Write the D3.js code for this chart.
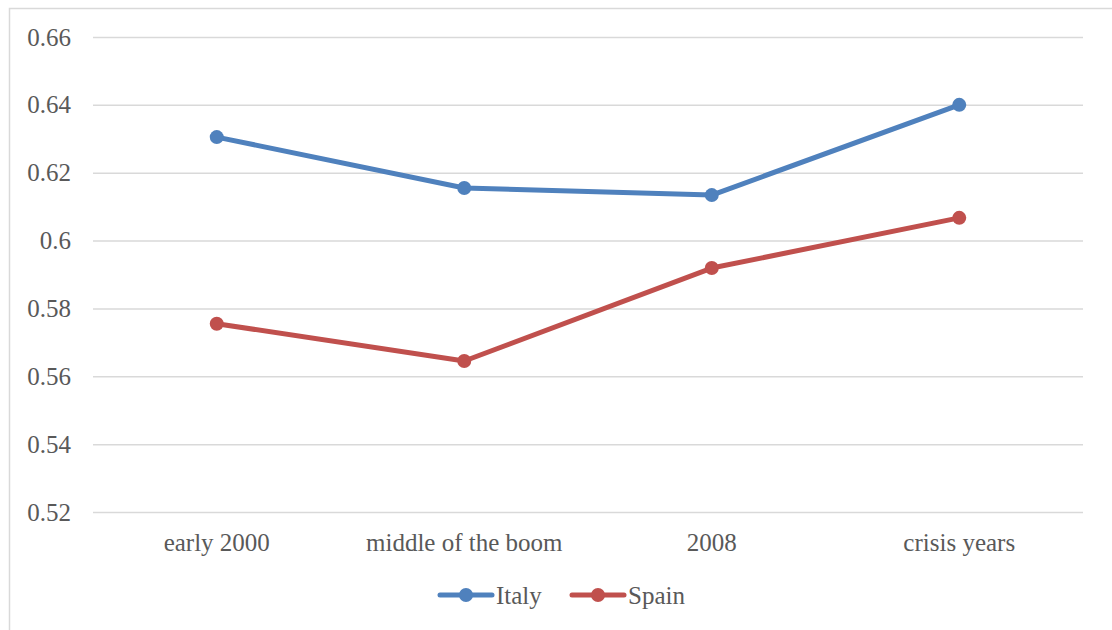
<!DOCTYPE html>
<html>
<head>
<meta charset="utf-8">
<script src="https://cdn.jsdelivr.net/npm/d3@7"></script>
<style>
  html, body { margin: 0; padding: 0; background: #fff; }
  svg { display: block; }
  svg text { font-family: 'Liberation Serif', serif; }
</style>
</head>
<body>
<svg id="chart" width="1112" height="630"></svg>
<script>
const categories = ["early 2000", "middle of the boom", "2008", "crisis years"];
const italy = [0.6305, 0.6155, 0.6134, 0.6400];
const spain = [0.5755, 0.5645, 0.5919, 0.6067];
const yTicks = [0.52, 0.54, 0.56, 0.58, 0.6, 0.62, 0.64, 0.66];
const seriesNames = ["Italy", "Spain"];
const seriesColors = ["#4f81bd", "#c0504d"];

const series = [
  { name: seriesNames[0], values: italy, color: seriesColors[0] },
  { name: seriesNames[1], values: spain, color: seriesColors[1] }
];

const svg = d3.select("#chart");
const font = "'Liberation Serif', serif";
const fontSize = 25;
const textColor = "#595959";
const gridColor = "#d9d9d9";

// outer chart-area frame
svg.append("rect")
  .attr("x", 9.5).attr("y", 8.5)
  .attr("width", 1200).attr("height", 700)
  .attr("fill", "none").attr("stroke", gridColor).attr("stroke-width", 1.5);

const plot = { left: 93, right: 1083, top: 37, bottom: 512 };

const x = d3.scaleBand().domain(categories).range([plot.left, plot.right]);
const y = d3.scaleLinear().domain([0.52, 0.66]).range([plot.bottom, plot.top]);

// horizontal gridlines + y labels
const yAxis = d3.axisLeft(y)
  .tickValues(yTicks)
  .tickSize(-(plot.right - plot.left))
  .tickPadding(22)
  .tickFormat(d => String(+d.toFixed(2)));

const gy = svg.append("g")
  .attr("transform", `translate(${plot.left},0)`)
  .call(yAxis)
  .attr("font-family", font)
  .attr("font-size", fontSize);
gy.select(".domain").remove();
gy.selectAll(".tick line").attr("stroke", gridColor).attr("stroke-width", 1.5);
gy.selectAll(".tick text").attr("fill", textColor);

// category labels
const xAxis = d3.axisBottom(x).tickSize(0).tickPadding(21);
const gx = svg.append("g")
  .attr("transform", `translate(0,${plot.bottom})`)
  .call(xAxis)
  .attr("font-family", font)
  .attr("font-size", fontSize);
gx.select(".domain").remove();
gx.selectAll(".tick text").attr("fill", textColor);

// series lines and markers
const line = d3.line()
  .x((d, i) => x(categories[i]) + x.bandwidth() / 2)
  .y(d => y(d));

series.forEach(s => {
  svg.append("path")
    .datum(s.values)
    .attr("d", line)
    .attr("fill", "none")
    .attr("stroke", s.color)
    .attr("stroke-width", 5)
    .attr("stroke-linejoin", "round")
    .attr("stroke-linecap", "round");
  svg.selectAll(null)
    .data(s.values)
    .enter().append("circle")
    .attr("cx", (d, i) => x(categories[i]) + x.bandwidth() / 2)
    .attr("cy", d => y(d))
    .attr("r", 7)
    .attr("fill", s.color);
});

// legend
const legendY = 595;
const legendItems = [
  { x: 438, s: series[0] },
  { x: 570, s: series[1] }
];
legendItems.forEach(item => {
  const g = svg.append("g").attr("transform", `translate(${item.x},${legendY})`);
  g.append("line")
    .attr("x1", 2).attr("x2", 54)
    .attr("stroke", item.s.color).attr("stroke-width", 5)
    .attr("stroke-linecap", "round");
  g.append("circle").attr("cx", 28).attr("r", 7).attr("fill", item.s.color);
  g.append("text")
    .attr("x", 58).attr("y", 0).attr("dy", "0.35em")
    .attr("fill", textColor)
    .attr("font-family", font)
    .attr("font-size", fontSize)
    .text(item.s.name);
});
</script>
</body>
</html>
